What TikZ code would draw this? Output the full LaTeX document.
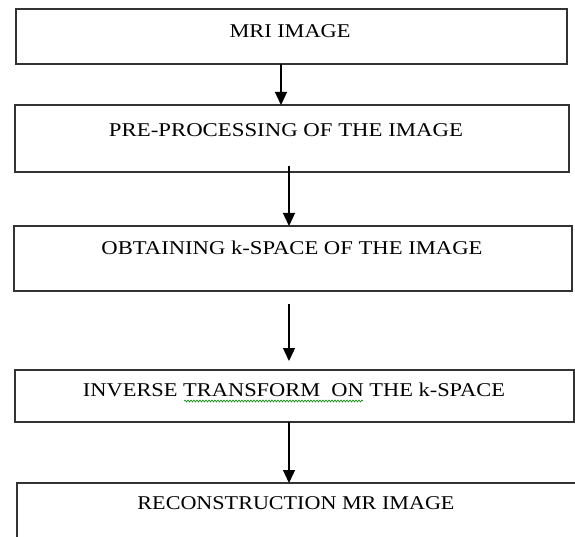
\documentclass[tikz,border=0pt]{standalone}
\usepackage{fontspec}
\setmainfont{Liberation Serif}
\usetikzlibrary{arrows.meta,decorations.pathmorphing}
\newcommand{\wtext}[2]{\resizebox{#1pt}{\height}{#2}}
\begin{document}
\begin{tikzpicture}[x=1pt,y=-1pt,
  box/.style={draw=black!80,line width=1.6pt},
  lbl/.style={anchor=base,inner sep=0pt,font=\fontsize{19.5}{22}\selectfont},
  arr/.style={draw=black,line width=1.3pt,-{Triangle[length=13pt,width=12pt]}},
  squig/.style={draw=green!55!black,line width=0.6pt,decorate,decoration={snake,amplitude=1pt,segment length=3pt}}]
\useasboundingbox (0,0) rectangle (575,537);
\clip (0,0) rectangle (575,537);
% boxes
\draw[box] (16,9) rectangle (567,64);
\coordinate (b1) at (281,64);
\draw[box] (15,105) rectangle (569,172);
\coordinate (b2t) at (281,105);
\coordinate (b2) at (289,166);
\draw[box] (14,226) rectangle (572,291);
\coordinate (b3t) at (289,226);
\coordinate (b3) at (289,304);
\draw[box] (15,370) rectangle (574,422);
\coordinate (b4t) at (289,370);
\coordinate (b4) at (289,422);
\draw[box] (17,483) rectangle (590,560);
\coordinate (b5t) at (289,483);
% texts
\node[lbl] (t1) at (290,38) {\wtext{121}{MRI IMAGE}};
\node[lbl] (t2) at (286,137) {\wtext{354}{PRE-PROCESSING OF THE IMAGE}};
\node[lbl] (t3) at (292,254) {\wtext{381}{OBTAINING k-SPACE OF THE IMAGE}};
\node[lbl] (t4) at (294,396) {\wtext{422}{INVERSE TRANSFORM\ \ ON THE k-SPACE}};
\node[lbl] (t5) at (296,509) {\wtext{317}{RECONSTRUCTION MR IMAGE}};
% spell-check squiggle
\coordinate (s1) at (184,401);
\coordinate (s2) at (363,401);
\draw[squig] (s1) -- (s2);
% arrows
\draw[arr] (b1) -- (b2t);
\draw[arr] (b2) -- (b3t);
\draw[arr] (b3) -- (289,361) coordinate (a3);
\draw[arr] (b4) -- (b5t);
\end{tikzpicture}
\end{document}
